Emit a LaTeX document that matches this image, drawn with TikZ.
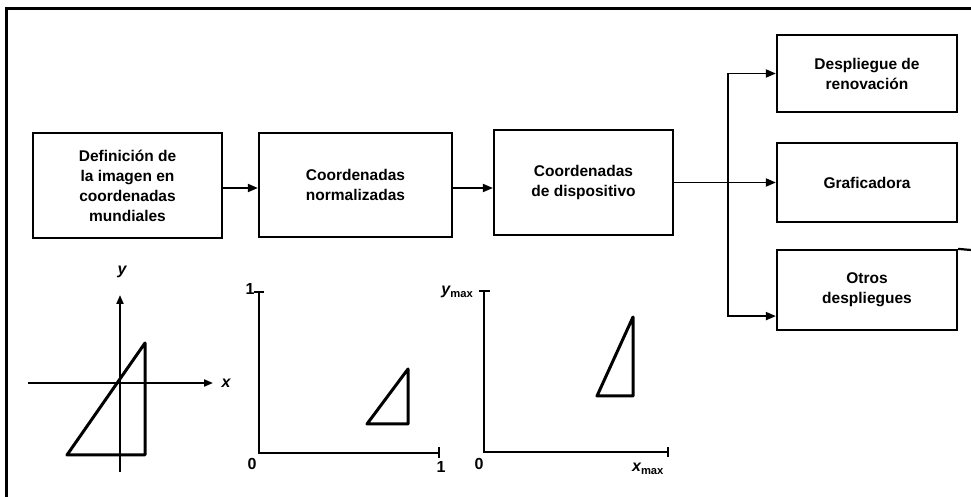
\documentclass[tikz,border=0pt]{standalone}
\usepackage{fontspec}
\setmainfont{Liberation Sans}
\usetikzlibrary{arrows.meta,positioning,calc}
\tikzset{every picture/.style={line width=0.75pt}}
\tikzset{
  caja/.style={draw,line width=2.2pt,align=center,inner sep=2pt,
    font=\fontsize{15.5}{20}\selectfont\bfseries},
  flecha/.style={line width=1.8pt,-{Triangle[length=10pt,width=8pt]}},
  eje/.style={line width=2pt},
  tri/.style={line width=3pt,line join=round},
  rotulo/.style={font=\fontsize{16}{18}\selectfont\bfseries}
}

\begin{document}
\begin{tikzpicture}[x=1pt,y=1pt]
    \useasboundingbox (0,0) rectangle (971,497);
    % 绘制边框
    \draw[line width=3pt] (6,0) -- (6,488) -- (971,488);

    % 绘制方框
    \node[caja,minimum width=189pt,minimum height=105pt] (def) at (127.5,311.5)
        {Definición de\\la imagen en\\coordenadas\\mundiales};
    \node[caja,minimum width=193pt,minimum height=104pt] (norm) at (355.5,312)
        {Coordenadas\\normalizadas};
    \node[caja,minimum width=179pt,minimum height=105pt] (disp) at (583.5,314.5)
        {Coordenadas\\de dispositivo};
    \node[caja,minimum width=180pt,minimum height=77pt] (reno) at (867,423.5)
        {Despliegue de\\renovación};
    \node[caja,minimum width=180pt,minimum height=79pt] (graf) at (867,314.5)
        {Graficadora};
    \node[caja,minimum width=180pt,minimum height=80pt] (otros) at (867,207)
        {Otros\\despliegues};
    \coordinate (borde) at (971,247);
    \draw[line width=2.2pt] (otros.north east) -- (borde);

    % 绘制箭头
    \coordinate (split) at (728,314.5);
    \coordinate (otrosin) at ($(otros.south west)+(0,15)$);
    \draw[flecha] ($(def.east)+(0,-2.5)$) -- ($(norm.west)+(0,-3)$);
    \draw[flecha] ($(norm.east)+(0,-3)$) -- ($(disp.west)+(0,-5.5)$);
    \draw[flecha] (disp.east) -- (graf.west);
    \draw[flecha] (split) |- (reno.west);
    \draw[flecha] (split) |- (otrosin);

    % 世界坐标
    \draw[eje,-{Triangle[length=9pt,width=7pt]}] (28,114) -- (213,114);
    \draw[eje,-{Triangle[length=9pt,width=7pt]}] (120,25) -- (120,202);
    \node[rotulo] at (226,114) {\itshape x};
    \node[rotulo] at (122,225) {\itshape y};
    \draw[tri] (67,42) -- (145,42) -- (145,154) -- cycle;

    % 规范化坐标
    \draw[eje] (259,205) -- (259,44) -- (439,44);
    \draw[eje] (254,205) -- (264,205);
    \draw[eje] (439,39) -- (439,50);
    \node[rotulo] at (250,208) {1};
    \node[rotulo] at (252,33) {0};
    \node[rotulo] at (441,30) {1};
    \draw[tri] (367,73) -- (408,73) -- (408,128) -- cycle;

    % 设备坐标
    \draw[eje] (484,206) -- (484,45) -- (668,45);
    \draw[eje] (479,206) -- (490,206);
    \draw[eje] (668,40) -- (668,50);
    \node[rotulo] at (479,33) {0};
    \node[rotulo,anchor=east] at (477,205) {\itshape y\textsubscript{\upshape max}};
    \node[rotulo] at (648,28) {\itshape x\textsubscript{\upshape max}};
    \draw[tri] (597,101) -- (633,101) -- (633,180) -- cycle;
\end{tikzpicture}
\end{document}
